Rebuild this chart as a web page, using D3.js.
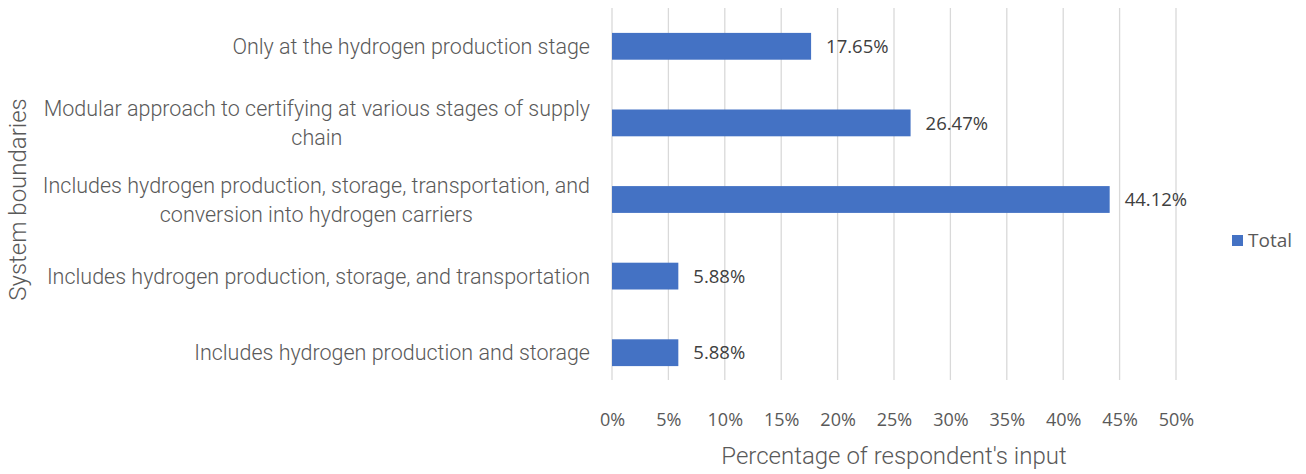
<!DOCTYPE html>
<html>
<head>
<meta charset="utf-8">
<script src="https://cdn.jsdelivr.net/npm/d3@7"></script>
<style>
  html, body { margin: 0; padding: 0; background: #fff; }
  svg { display: block; }
</style>
</head>
<body>
<svg id="chart" width="1306" height="474"></svg>
<script>
// Survey: where certification system boundaries should be drawn
const categories = [
  "Only at the hydrogen production stage",
  "Modular approach to certifying at various stages of supply chain",
  "Includes hydrogen production, storage, transportation, and conversion into hydrogen carriers",
  "Includes hydrogen production, storage, and transportation",
  "Includes hydrogen production and storage"
];
const totals = [17.65, 26.47, 44.12, 5.88, 5.88];
const tickValues = [0, 5, 10, 15, 20, 25, 30, 35, 40, 45, 50];
const seriesName = "Total";
const xTitle = "Percentage of respondent's input";
const yTitle = "System boundaries";

const svg = d3.select("#chart");
const labelFont = "Roboto, 'Liberation Sans', sans-serif";
const numFont = "'Open Sans', 'DejaVu Sans', sans-serif";
const textColor = "#595959";

const plot = { left: 612, right: 1176, top: 8, bottom: 391 };

const x = d3.scaleLinear().domain([0, 50]).range([plot.left, plot.right]);
const y = d3.scaleBand().domain(categories).range([plot.top, plot.bottom]).paddingInner(0.65).paddingOuter(0.325);

// vertical gridlines
svg.append("g")
  .selectAll("line")
  .data(tickValues)
  .join("line")
  .attr("x1", d => x(d)).attr("x2", d => x(d))
  .attr("y1", plot.top).attr("y2", 380)
  .attr("stroke", "#d9d9d9").attr("stroke-width", 1.3);

// bars
svg.append("g")
  .selectAll("rect")
  .data(categories)
  .join("rect")
  .attr("x", x(0))
  .attr("y", d => y(d))
  .attr("width", (d, i) => x(totals[i]) - x(0))
  .attr("height", y.bandwidth())
  .attr("fill", "#4472c4");

// value labels
svg.append("g")
  .selectAll("text")
  .data(categories)
  .join("text")
  .attr("x", (d, i) => x(totals[i]) + 15)
  .attr("y", d => y(d) + y.bandwidth() / 2)
  .attr("dy", "0.36em")
  .attr("font-family", numFont)
  .attr("font-size", 18.5)
  .attr("fill", "#404040")
  .text((d, i) => totals[i].toFixed(2) + "%");

// x tick labels
const xAxis = d3.axisBottom(x).tickValues(tickValues).tickFormat(d => d + "%").tickSize(0).tickPadding(0);
const gx = svg.append("g").attr("transform", `translate(0, 426)`).call(xAxis);
gx.select(".domain").remove();
gx.selectAll("text")
  .attr("dy", 0)
  .attr("font-family", numFont)
  .attr("font-size", 18)
  .attr("fill", textColor);

// category labels, wrapped to the available width
const catSize = 21.5;
const yAxis = d3.axisLeft(y).tickSize(0).tickPadding(22);
const gy = svg.append("g").attr("transform", `translate(${plot.left}, 0)`).call(yAxis);
gy.select(".domain").remove();
const lineH = 29;
const maxW = 562;
gy.selectAll("text")
  .attr("font-family", labelFont)
  .attr("font-weight", 300)
  .attr("font-size", catSize)
  .attr("fill", textColor)
  .each(function (d) {
    const t = d3.select(this);
    const words = d.split(" ");
    t.text(null);
    const lines = [];
    let cur = [];
    const probe = t.append("tspan");
    let widest = 0;
    for (const w of words) {
      cur.push(w);
      probe.text(cur.join(" "));
      const wLen = probe.node().getComputedTextLength();
      if (wLen > maxW && cur.length > 1) {
        cur.pop();
        lines.push(cur.join(" "));
        cur = [w];
      }
    }
    lines.push(cur.join(" "));
    lines.forEach(ln => {
      probe.text(ln);
      widest = Math.max(widest, probe.node().getComputedTextLength());
    });
    probe.remove();
    const xPos = +t.attr("x");
    const multi = lines.length > 1;
    t.attr("dy", null).attr("text-anchor", multi ? "middle" : "end");
    lines.forEach((ln, i) => {
      t.append("tspan")
        .attr("x", multi ? xPos - widest / 2 : xPos)
        .attr("dy", i === 0 ? ((0.35 * catSize - (lines.length - 1) * lineH / 2) + "px") : lineH + "px")
        .text(ln);
    });
  });

// axis titles
svg.append("text")
  .attr("x", x(25) + 0)
  .attr("y", 464)
  .attr("text-anchor", "middle")
  .attr("font-family", labelFont)
  .attr("font-weight", 300)
  .attr("font-size", 24)
  .attr("fill", textColor)
  .text(xTitle);

svg.append("text")
  .attr("transform", `translate(26, ${(plot.top + plot.bottom) / 2}) rotate(-90)`)
  .attr("text-anchor", "middle")
  .attr("font-family", labelFont)
  .attr("font-weight", 300)
  .attr("font-size", 24)
  .attr("fill", textColor)
  .text(yTitle);

// legend
const legend = svg.append("g").attr("transform", "translate(1232, 235)");
legend.append("rect").attr("width", 11).attr("height", 11).attr("fill", "#4472c4");
legend.append("text")
  .attr("x", 16).attr("y", 5.5).attr("dy", "0.36em")
  .attr("font-family", numFont)
  .attr("font-size", 19)
  .attr("fill", textColor)
  .text(seriesName);
</script>
</body>
</html>
